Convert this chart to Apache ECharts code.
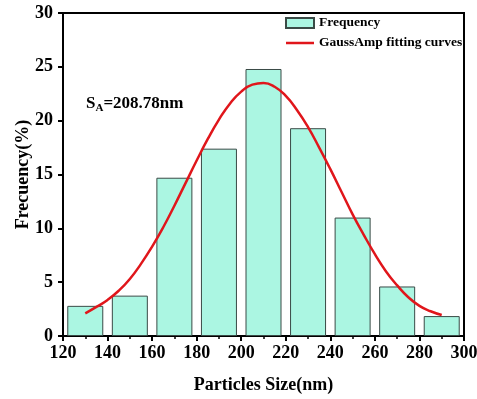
<!DOCTYPE html>
<html><head><meta charset="utf-8">
<script src="https://cdn.jsdelivr.net/npm/echarts@6/dist/echarts.min.js"></script>
<style>html,body{margin:0;padding:0;background:#fff}#c{width:477px;height:399px}</style>
</head><body><div id="c"></div>
<script>
var binCenters = [130, 150, 170, 190, 210, 230, 250, 270, 290];
var frequency = [2.8, 3.75, 14.7, 17.4, 24.8, 19.3, 11.0, 4.6, 1.85];
var curveX = [130,135,140,145,150,155,160,165,170,175,180,185,190,195,200,205,210,215,220,225,230,235,240,245,250,255,260,265,270,275,280,285,290];
var curveY = [2.1,2.7,3.35,4.2,5.3,6.7,8.3,10.1,12.1,14.2,16.3,18.3,20.1,21.6,22.7,23.35,23.5,23.15,22.3,21.0,19.4,17.5,15.5,13.4,11.3,9.4,7.6,6.0,4.7,3.6,2.8,2.3,1.95];
var xTicks = [120,140,160,180,200,220,240,260,280,300];
var yTicks = [0,5,10,15,20,25,30];

var font = '"Liberation Serif", "Times New Roman", serif';
var chart = echarts.init(document.getElementById('c'));
chart.setOption({
  animation: false,
  grid: {left: 63, right: 13, top: 13, bottom: 63, outerBoundsMode: 'none', containLabel: false, show: true, borderColor: '#000', borderWidth: 2, backgroundColor: 'transparent'},
  legend: {
    orient: 'vertical', left: 280, top: 11, itemGap: 6, itemWidth: 28, itemHeight: 10,
    textStyle: {fontFamily: font, fontWeight: 'bold', fontSize: 13.5, color: '#000'},
    data: [
      {name: 'Frequency', icon: 'rect'},
      {name: 'GaussAmp fitting curves', icon: 'path://M0,0L28,0L28,2.5L0,2.5Z', itemStyle: {color: '#e0161b'}}
    ]
  },
  xAxis: {
    type: 'value', min: xTicks[0], max: xTicks[xTicks.length-1], interval: 20,
    name: 'Particles Size(nm)', nameLocation: 'middle', nameGap: 40, nameMoveOverlap: false,
    nameTextStyle: {fontFamily: font, fontWeight: 'bold', fontSize: 18, color: '#000'},
    axisLine: {lineStyle: {color: '#000', width: 2}},
    axisTick: {inside: false, length: 5, lineStyle: {width: 2, color: '#000'}},
    minorTick: {show: true, splitNumber: 2, length: 3, lineStyle: {width: 1.5, color: '#000'}},
    splitLine: {show: false},
    axisLabel: {fontFamily: font, fontWeight: 'bold', fontSize: 18, color: '#000', margin: 8}
  },
  yAxis: {
    type: 'value', min: yTicks[0], max: yTicks[yTicks.length-1], interval: 5,
    name: 'Frecuency(%)', nameLocation: 'middle', nameGap: 31, nameMoveOverlap: false,
    nameTextStyle: {fontFamily: font, fontWeight: 'bold', fontSize: 18, color: '#000'},
    axisLine: {show: true, lineStyle: {color: '#000', width: 2}},
    axisTick: {show: true, length: 5, lineStyle: {width: 2, color: '#000'}},
    splitLine: {show: false},
    axisLabel: {fontFamily: font, fontWeight: 'bold', fontSize: 18, color: '#000', margin: 10}
  },
  series: [
    {
      name: 'Frequency', type: 'bar', barWidth: 36,
      itemStyle: {color: '#abf6e2', borderColor: '#3a4a46', borderWidth: 1},
      data: binCenters.map(function(x, i){ return [x, frequency[i]]; }),
      z: 2
    },
    {
      name: 'GaussAmp fitting curves', type: 'line', smooth: true, symbol: 'none',
      lineStyle: {color: '#e0161b', width: 2.5}, itemStyle: {color: '#e0161b'},
      data: curveX.map(function(x, i){ return [x, curveY[i]]; }),
      z: 3
    }
  ],
  graphic: [{
    type: 'text', left: 86, top: 95,
    style: {
      text: '{s|S}{sub|A}{s|=208.78nm}',
      rich: {
        s: {fontFamily: font, fontWeight: 'bold', fontSize: 17, fill: '#000', color: '#000'},
        sub: {fontFamily: font, fontWeight: 'bold', fontSize: 11, fill: '#000', color: '#000', verticalAlign: 'bottom', padding: [9,0,0,0]}
      }
    }
  }]
});
</script></body></html>
